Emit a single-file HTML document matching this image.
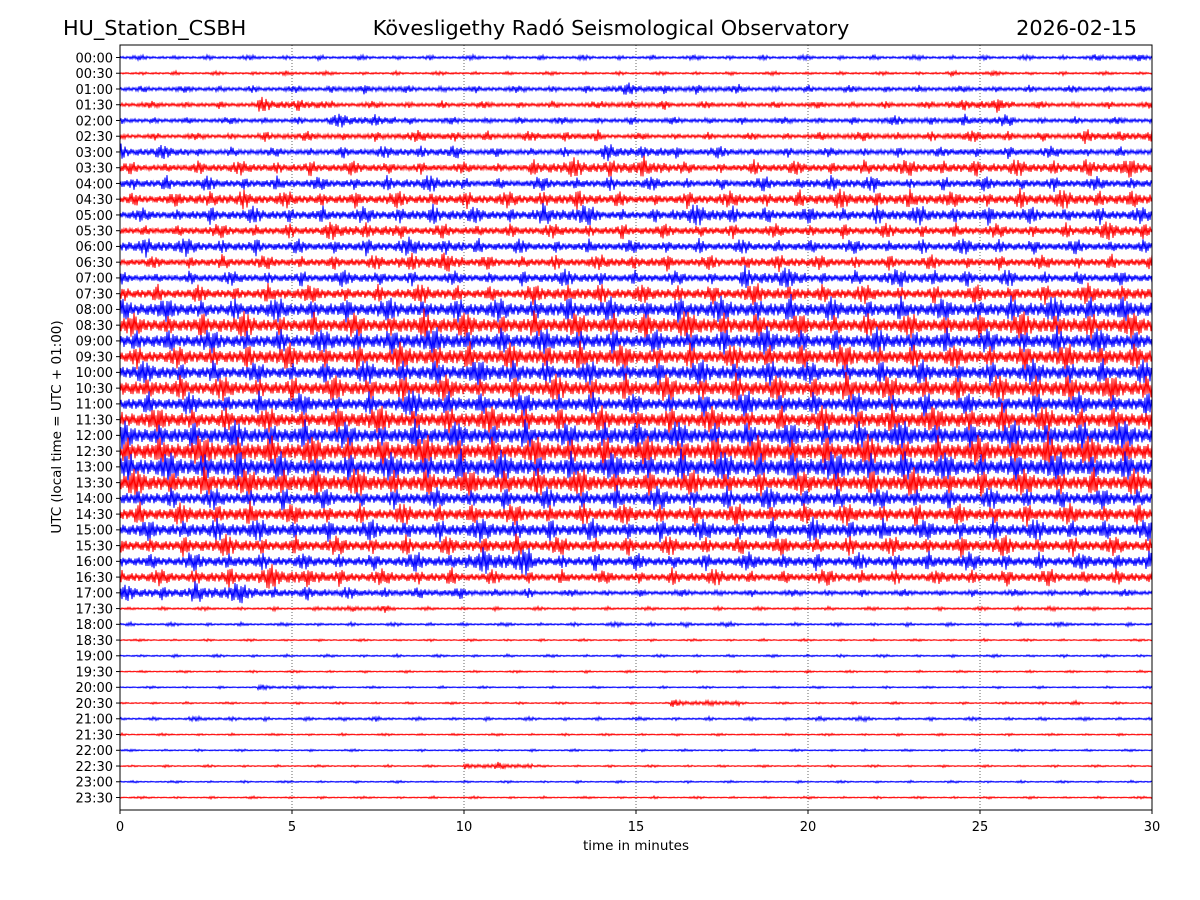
<!DOCTYPE html>
<html><head><meta charset="utf-8"><style>
body{margin:0;background:#fff;width:1200px;height:900px;overflow:hidden}
svg{display:block;font-family:"DejaVu Sans","Liberation Sans",sans-serif}
</style></head><body>
<svg id="chart" width="1200" height="900" viewBox="0 0 1200 900">
<text x="63" y="35" font-size="20.8">HU_Station_CSBH</text>
<text x="611" y="35" font-size="20.8" text-anchor="middle">Kövesligethy Radó Seismological Observatory</text>
<text x="1137" y="35" font-size="20.8" text-anchor="end">2026-02-15</text>
<g id="grid"></g>
<g id="traces"></g>
<rect x="120" y="45" width="1032" height="765" fill="none" stroke="#000" stroke-width="1"/>
<g id="yaxis"></g>
<g id="xaxis"></g>
<text x="636" y="850" font-size="13.5" text-anchor="middle">time in minutes</text>
<text transform="translate(61,427) rotate(-90)" font-size="13.5" text-anchor="middle">UTC (local time = UTC + 01:00)</text>
</svg>
<script>
const rowLabels=[];for(let h=0;h<24;h++){const hh=(h<10?'0':'')+h;rowLabels.push(hh+':00',hh+':30');}
const xTicks=[0,5,10,15,20,25,30];
// envelope half-amplitude (px) per 2-minute bin, 15 bins per row
const env=[
[2,2,2,2,2,2,2,2,2,2,2,2,2,2,3],
[1.5,1.5,2,1.5,1.5,1.5,1.5,1.5,1.5,1.5,1.5,1.5,2,1.5,1.5],
[3,3,3,4,3,3,3,5,4,3,3,3,3,3,3],
[3,3,6,3,3,3,3,4,3,3,3,3,6,3,3],
[3,3,3,6,3,3,3,3,3,3,3,4,5,3,3],
[3,3,4,4,5,4,5,3,3,3,4,4,5,4,6],
[6,4,4,5,6,4,4,7,5,4,4,4,5,5,4],
[5,6,6,6,5,5,8,9,5,6,6,7,7,7,8],
[6,6,6,6,7,5,6,6,5,6,7,5,6,6,6],
[6,8,7,7,7,7,8,6,7,7,8,8,7,8,8],
[6,7,7,7,8,7,9,6,9,7,7,8,8,7,7],
[5,6,6,8,6,6,6,6,6,6,6,6,6,6,8],
[8,7,6,7,8,6,6,6,6,6,6,6,7,6,6],
[5,6,6,6,9,6,6,7,6,7,6,6,6,6,6],
[5,6,6,7,6,6,7,6,6,9,6,8,7,6,6],
[7,7,8,7,8,7,9,8,8,9,8,7,8,8,9],
[10,9,10,10,10,10,11,10,11,11,10,10,10,11,12],
[10,11,10,10,12,11,11,12,12,11,10,10,11,12,11],
[10,10,10,11,12,11,11,10,11,12,10,11,10,11,11],
[9,10,11,10,12,11,12,11,10,11,11,10,10,11,11],
[10,9,9,10,11,12,10,10,11,11,9,10,10,11,10],
[11,10,10,11,11,10,11,11,11,11,12,11,11,12,12],
[9,9,10,9,12,10,10,9,10,11,10,10,9,10,10],
[11,10,10,12,11,12,10,11,11,10,11,12,12,11,11],
[12,12,12,11,12,12,11,13,12,12,12,13,12,13,13],
[13,14,13,13,14,12,13,13,13,13,13,12,13,14,13],
[13,14,12,12,13,13,12,13,13,13,14,13,12,13,13],
[12,12,13,12,12,12,12,11,11,10,11,12,11,11,11],
[9,9,9,8,9,9,9,10,9,10,9,9,9,9,9],
[9,10,9,8,9,9,9,9,9,9,9,9,9,9,9],
[9,10,9,9,9,10,9,9,9,9,10,9,9,9,9],
[8,9,8,8,8,9,8,8,8,8,8,8,9,8,8],
[7,8,7,7,8,12,7,7,7,8,7,8,8,7,8],
[7,8,10,7,7,6,6,6,7,6,7,6,7,7,7],
[7,9,6,5,5,4,3,3,3,3,3,3,3,3,3],
[1.5,1.5,1.5,3,1.5,1.5,1.5,1.5,1.5,1.5,1.5,1.5,1.5,2,1.5],
[1.5,1.5,1.5,1.5,1.5,1.5,1.5,2,2,1.5,1.5,1.5,1.5,2,1.5],
[1,1,1,1,1,1,1,1,1,1,1,1,1,1,1],
[1.2,1.2,1.2,1.2,1.2,1.2,1.2,1.2,1.2,1.2,1.2,1.2,1.2,1.2,1.2],
[1,1,1,1,1,1,1,1,1,1,1,1,1,1,1],
[1,1,2,1,1,1,1,1,1,1,1,1,1,1,1],
[1,1,1,1,1,1,1,1,3,1,1,1,1,1.5,1],
[1.5,2,1.5,2,1.5,1.5,1.5,1.5,1.5,1.5,2,1.5,1.5,1.5,1.5],
[1,1,1,1,1,1,1,1,1,1,1,1,1,1,1],
[1,1,1,1,1,1,1,1,1,1,1,1,1,1,1],
[1,1,1,1,1,3,1,1,1,1,1,1,1,1,1],
[1,1,1,1,1,1,1,1,1,1,1,1,1,1,1],
[1,1,1,1,1,1,1,1,1,1,1,1,1,1,1]
];
const NS='http://www.w3.org/2000/svg';
const X0=120,X1=1152,Y0=57.5,DY=15.745;
const xs=m=>X0+(m/30)*(X1-X0);
const ys=i=>Y0+i*DY;
// decorative waveform style: oscillation sign pattern and burst-shape modulation
const wiggle=[1,-0.7,0.5,-1,0.8,-0.4,0.9,-0.85,0.3,-0.6,1,-0.5,0.7,-0.95,0.45,-0.75,0.6,-0.3,0.95,-0.65];
const burst=[0.55,0.55,0.6,0.7,0.9,1.15,1.3,1.15,0.9,0.7,0.6,0.55,0.55,0.55,0.6,0.55,0.55,0.8,1.05,0.8,0.6,0.55,0.55,0.55,0.6,0.55,0.55,0.65,0.95,1.4,1.05,0.7,0.55,0.55,0.55,0.6,0.55];
const grid=document.getElementById('grid');
xTicks.slice(1,-1).forEach(t=>{
  const l=document.createElementNS(NS,'line');
  
  
  l.setAttribute('x1',xs(t));l.setAttribute('x2',xs(t));l.setAttribute('y1',45);l.setAttribute('y2',810);
  l.setAttribute('stroke','#000');l.setAttribute('stroke-width','0.6');l.setAttribute('stroke-dasharray','1,2');
  grid.appendChild(l);
});
const tr=document.getElementById('traces');
env.forEach((row,i)=>{
  const y=ys(i);const n=row.length;let d='';let k=0;
  for(let px=X0;px<=X1;px+=1){
    const m=(px-X0)/(X1-X0)*30;const b=Math.min(n-1,Math.floor(m/(30/n)));
    const a=row[b]*burst[(Math.floor(k/3)+i*11)%burst.length];
    d+=(k?'L':'M')+px+' '+(y+a*wiggle[(k+i*7)%wiggle.length]).toFixed(1);k++;
  }
  const p=document.createElementNS(NS,'path');
  
  
  p.setAttribute('d',d);p.setAttribute('fill','none');
  p.setAttribute('stroke',i%2?'#ff0000':'#0000ff');p.setAttribute('stroke-width','1');
  tr.appendChild(p);
});
const ya=document.getElementById('yaxis');
rowLabels.forEach((lab,i)=>{
  const t=document.createElementNS(NS,'text');
  
  
  t.setAttribute('x',113);t.setAttribute('y',ys(i)+4.8);t.setAttribute('font-size','13');t.setAttribute('text-anchor','end');
  t.textContent=lab;ya.appendChild(t);
  const l=document.createElementNS(NS,'line');
  
  
  l.setAttribute('x1',116);l.setAttribute('x2',120);l.setAttribute('y1',ys(i));l.setAttribute('y2',ys(i));l.setAttribute('stroke','#000');
  ya.appendChild(l);
});
const xa=document.getElementById('xaxis');
xTicks.forEach(v=>{
  const l=document.createElementNS(NS,'line');
  
  
  l.setAttribute('x1',xs(v));l.setAttribute('x2',xs(v));l.setAttribute('y1',810);l.setAttribute('y2',814);l.setAttribute('stroke','#000');
  xa.appendChild(l);
  const t=document.createElementNS(NS,'text');
  
  
  t.setAttribute('x',xs(v));t.setAttribute('y',831);t.setAttribute('font-size','13');t.setAttribute('text-anchor','middle');
  t.textContent=v;xa.appendChild(t);
});
</script>
</body></html>
